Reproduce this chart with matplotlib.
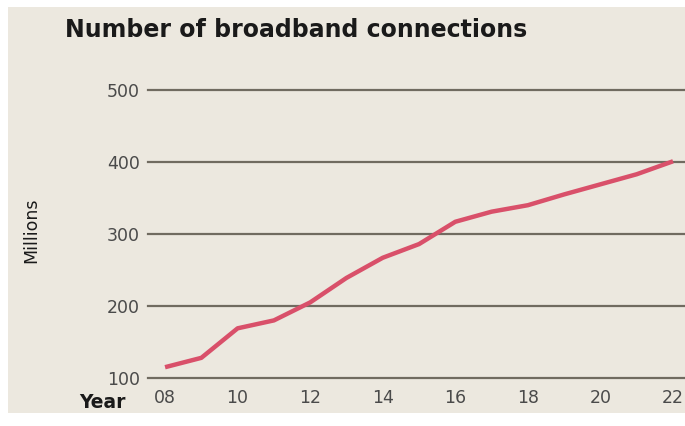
import matplotlib.pyplot as plt
from matplotlib.patches import Rectangle

# Broadband connections, millions
years = [8, 9, 10, 11, 12, 13, 14, 15, 16, 17, 18, 19, 20, 21, 22]
connections = [115, 128, 169, 180, 205, 239, 267, 286, 317, 331, 340, 355, 369, 383, 401]
x_ticks = [8, 10, 12, 14, 16, 18, 20, 22]
x_labels = ['08', '10', '12', '14', '16', '18', '20', '22']
y_ticks = [100, 200, 300, 400, 500]

bg = '#ece8df'
W, H = 685, 426
fig = plt.figure(figsize=(W / 100, H / 100), dpi=100, facecolor='white')
fig.patches.append(Rectangle((8 / W, 13 / H), 1 - 8 / W, 1 - 20 / H,
                             transform=fig.transFigure, facecolor=bg, edgecolor='none', zorder=-5))

ax = fig.add_axes([148 / W, 1 - 378 / H, 1 - 148 / W, (378 - 90) / H])
ax.set_facecolor('none')
ax.set_zorder(2)
ax.set_xlim(7.53, 22.33)
ax.set_ylim(100, 500)

for y in y_ticks:
    ax.axhline(y, color='#706b60', lw=1.6, zorder=1, clip_on=False)

ax.plot(years, connections, color='#d9506a', lw=3.2, solid_capstyle='butt', zorder=3)

for s in ax.spines.values():
    s.set_visible(False)
ax.set_xticks(x_ticks)
ax.set_xticklabels(x_labels)
ax.set_yticks(y_ticks)
ax.tick_params(axis='both', length=0, labelsize=12.5, labelcolor='#4a4a4a')
ax.tick_params(axis='y', pad=6)
ax.tick_params(axis='x', pad=8)

fig.text(65 / W, 1 - 30 / H, 'Number of broadband connections', fontsize=17,
         fontweight='bold', color='#1a1a1a', va='center', ha='left')
fig.text(79 / W, 1 - 402 / H, 'Year', fontsize=13.5, fontweight='bold',
         color='#1a1a1a', va='center', ha='left')
fig.text(31 / W, 1 - 230 / H, 'Millions', fontsize=12.5, rotation=90,
         color='#1a1a1a', va='center', ha='center')

fig.savefig('out.png', dpi=100, facecolor='white')
